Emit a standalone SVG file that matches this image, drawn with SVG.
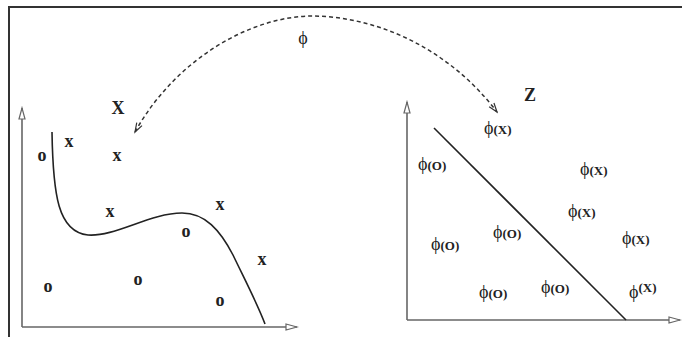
<svg xmlns="http://www.w3.org/2000/svg" width="682" height="337" viewBox="0 0 682 337">
<style>
.frame{stroke:#333;stroke-width:2;fill:none}
.axis{stroke:#666;stroke-width:1.6;fill:none}
.curve{stroke:#222;stroke-width:1.6;fill:none}
.arc{stroke:#333;stroke-width:1.5;fill:none;stroke-dasharray:4 3}
.mk{font-family:"Liberation Serif",serif;font-weight:bold;font-size:18px;fill:#222;text-anchor:middle}
.big{font-family:"Liberation Serif",serif;font-weight:bold;font-size:18px;fill:#222;text-anchor:middle}
.phi{font-family:"Liberation Serif","DejaVu Serif",serif;font-size:18px;fill:#222}
.sub{font-family:"Liberation Serif",serif;font-size:13px;font-weight:bold}
</style>
<defs>
<marker id="axArrow" markerUnits="userSpaceOnUse" markerWidth="14" markerHeight="10" refX="12" refY="4" orient="auto">
<path d="M1,1 L12,4 L1,7 Z" fill="#fff" stroke="#666" stroke-width="1.2"/>
</marker>
<marker id="arcArrow" markerUnits="userSpaceOnUse" markerWidth="12" markerHeight="10" refX="10" refY="4" orient="auto-start-reverse">
<path d="M1,1 L10,4 L1,7" fill="none" stroke="#333" stroke-width="1.2"/>
</marker>
</defs>
<rect width="682" height="337" fill="#fff"/>
<path class="frame" d="M9,337 L9,7 L682,7"/>
<g id="connectors">
<path class="arc" d="M135,132 C175,60 250,16 313,16 C380,17 450,50 497,112" marker-start="url(#arcArrow)" marker-end="url(#arcArrow)"/>
</g>
<g id="phi-label"><text class="phi" x="303" y="44" text-anchor="middle">ϕ</text></g>
<g id="input-space">
<line class="axis" x1="22" y1="327" x2="22" y2="108" marker-end="url(#axArrow)"/>
<line class="axis" x1="22" y1="327" x2="297" y2="327" marker-end="url(#axArrow)"/>
<path class="curve" d="M52,132 C53,195 58,232 88,235 C115,237 150,213 182,213 C205,213 220,230 233,255 C245,280 258,305 265,324"/>
<text class="big" x="118" y="114">X</text>
<text class="mk" x="42" y="161">o</text>
<text class="mk" x="69" y="147">x</text>
<text class="mk" x="117" y="161">x</text>
<text class="mk" x="110" y="217">x</text>
<text class="mk" x="220" y="210">x</text>
<text class="mk" x="186" y="237">o</text>
<text class="mk" x="262" y="265">x</text>
<text class="mk" x="48" y="292">o</text>
<text class="mk" x="138" y="285">o</text>
<text class="mk" x="220" y="306">o</text>
</g>
<g id="feature-space">
<line class="axis" x1="407" y1="320" x2="407" y2="102" marker-end="url(#axArrow)"/>
<line class="axis" x1="407" y1="320" x2="680" y2="320" marker-end="url(#axArrow)"/>
<line class="curve" x1="434" y1="128" x2="626" y2="320"/>
<text class="big" x="530" y="101">Z</text>
<text class="phi" x="484" y="134">ϕ<tspan class="sub">(X)</tspan></text>
<text class="phi" x="418" y="170">ϕ<tspan class="sub">(O)</tspan></text>
<text class="phi" x="580" y="175">ϕ<tspan class="sub">(X)</tspan></text>
<text class="phi" x="568" y="217">ϕ<tspan class="sub">(X)</tspan></text>
<text class="phi" x="493" y="238">ϕ<tspan class="sub">(O)</tspan></text>
<text class="phi" x="431" y="250">ϕ<tspan class="sub">(O)</tspan></text>
<text class="phi" x="622" y="244">ϕ<tspan class="sub">(X)</tspan></text>
<text class="phi" x="479" y="298">ϕ<tspan class="sub">(O)</tspan></text>
<text class="phi" x="541" y="293">ϕ<tspan class="sub">(O)</tspan></text>
<text class="phi" x="629" y="298">ϕ<tspan class="sub" dy="-6">(X)</tspan></text>
</g>
</svg>
